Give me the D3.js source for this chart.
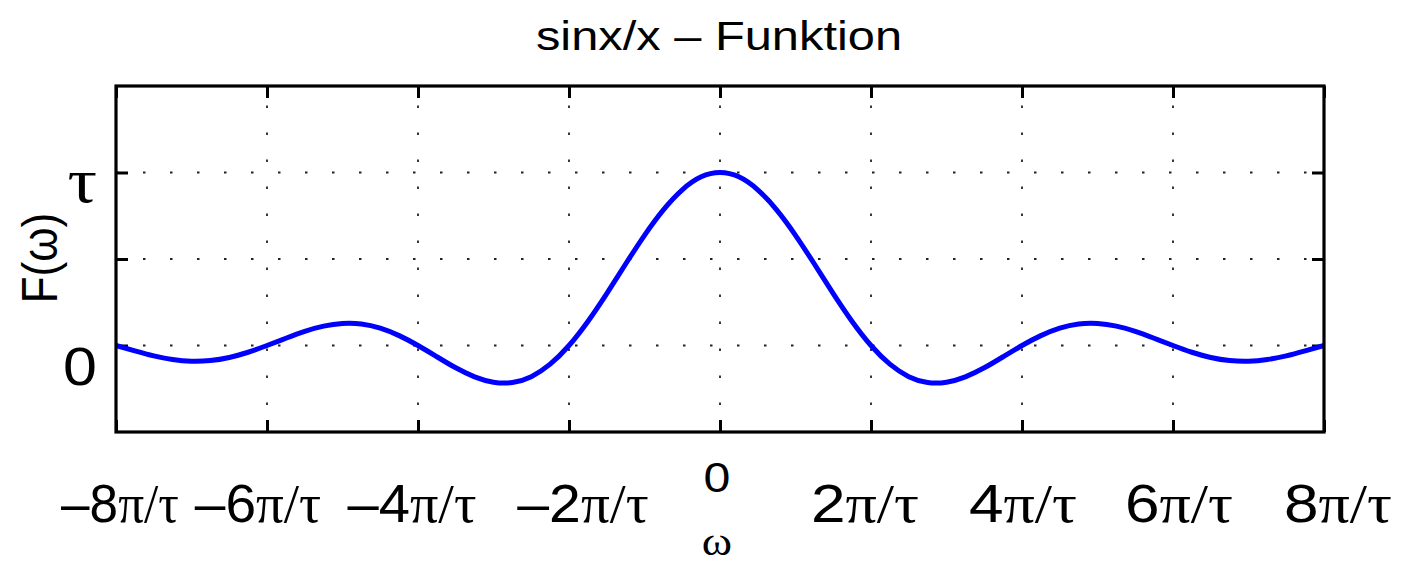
<!DOCTYPE html>
<html>
<head>
<meta charset="utf-8">
<script src="https://cdn.jsdelivr.net/npm/d3@7/dist/d3.min.js"></script>
<style>
  html, body { margin: 0; padding: 0; background: #fff; }
  svg { display: block; }
</style>
</head>
<body>
<svg id="chart" width="1406" height="562"></svg>
<script>
// Frequency axis in units of pi/tau
const omega = [
  -8, -7.75, -7.5, -7.25, -7, -6.75, -6.5, -6.25,
  -6, -5.75, -5.5, -5.25, -5, -4.75, -4.5, -4.25,
  -4, -3.75, -3.5, -3.25, -3, -2.75, -2.5, -2.25,
  -2, -1.75, -1.5, -1.25, -1, -0.75, -0.5, -0.25,
  0, 0.25, 0.5, 0.75, 1, 1.25, 1.5, 1.75,
  2, 2.25, 2.5, 2.75, 3, 3.25, 3.5, 3.75,
  4, 4.25, 4.5, 4.75, 5, 5.25, 5.5, 5.75,
  6, 6.25, 6.5, 6.75, 7, 7.25, 7.5, 7.75, 8
];
// F(omega) in units of tau
const spectrum = [
  0.000, -0.031, -0.060, -0.081, -0.091, -0.087, -0.069, -0.039,
  0.000, 0.042, 0.082, 0.112, 0.127, 0.124, 0.100, 0.057,
  0.000, -0.065, -0.129, -0.181, -0.212, -0.214, -0.180, -0.108,
  0.000, 0.139, 0.300, 0.471, 0.637, 0.784, 0.900, 0.975,
  1.000, 0.975, 0.900, 0.784, 0.637, 0.471, 0.300, 0.139,
  0.000, -0.108, -0.180, -0.214, -0.212, -0.181, -0.129, -0.065,
  0.000, 0.057, 0.100, 0.124, 0.127, 0.112, 0.082, 0.042,
  0.000, -0.039, -0.069, -0.087, -0.091, -0.081, -0.060, -0.031, 0.000
];
const xTicks = [-8, -6, -4, -2, 0, 2, 4, 6, 8];
const xTickLabels = ["\u20138\u03c0/\u03c4", "\u20136\u03c0/\u03c4", "\u20134\u03c0/\u03c4", "\u20132\u03c0/\u03c4", "0",
                     "2\u03c0/\u03c4", "4\u03c0/\u03c4", "6\u03c0/\u03c4", "8\u03c0/\u03c4"];
const yTicks = [0, 0.5, 1];
const yTickLabels = ["0", "", "\u03c4"];
const titleText = "sinx/x \u2013 Funktion";
const xLabelText = "\u03c9";
const yLabelText = "F(\u03c9)";

const svg = d3.select("#chart");
const plotL = 116, plotR = 1324, plotT = 86, plotB = 432;
const sans = "'Liberation Sans', Arial, Helvetica, sans-serif";
const serif = "'Liberation Serif', 'Times New Roman', serif";

const x = d3.scaleLinear().domain([-8, 8]).range([plotL, plotR]);
const y = d3.scaleLinear().domain([-0.5, 1.5]).range([plotB, plotT]);

// dotted grid
const grid = svg.append("g")
  .attr("stroke", "#222").attr("stroke-width", 1.8)
  .attr("stroke-dasharray", "2.5,24.5");
grid.selectAll("line.v").data(xTicks.slice(1, -1)).join("line")
  .attr("class", "v")
  .attr("x1", d => x(d)).attr("x2", d => x(d))
  .attr("y1", plotB).attr("y2", plotT);
grid.selectAll("line.h").data(yTicks).join("line")
  .attr("class", "h")
  .attr("x1", plotL).attr("x2", plotR)
  .attr("y1", d => y(d)).attr("y2", d => y(d));

// inward ticks on all four sides
const tickLen = 12;
function styleAxis(g) {
  g.select(".domain").remove();
  g.selectAll("text").remove();
  g.selectAll("line").attr("stroke", "#000").attr("stroke-width", 3);
}
svg.append("g").attr("transform", `translate(0,${plotB})`)
  .call(d3.axisBottom(x).tickValues(xTicks).tickSize(-tickLen)).call(styleAxis);
svg.append("g").attr("transform", `translate(0,${plotT})`)
  .call(d3.axisTop(x).tickValues(xTicks).tickSize(-tickLen)).call(styleAxis);
svg.append("g").attr("transform", `translate(${plotL},0)`)
  .call(d3.axisLeft(y).tickValues(yTicks).tickSize(-tickLen)).call(styleAxis);
svg.append("g").attr("transform", `translate(${plotR},0)`)
  .call(d3.axisRight(y).tickValues(yTicks).tickSize(-tickLen)).call(styleAxis);

// curve
const line = d3.line()
  .x((d, i) => x(omega[i]))
  .y(d => y(d))
  .curve(d3.curveNatural);
svg.append("path")
  .datum(spectrum)
  .attr("d", line)
  .attr("fill", "none")
  .attr("stroke", "#0000ff")
  .attr("stroke-width", 5)
  .attr("stroke-linejoin", "round");

// frame
svg.append("rect")
  .attr("x", plotL).attr("y", plotT)
  .attr("width", plotR - plotL).attr("height", plotB - plotT)
  .attr("fill", "none").attr("stroke", "#000").attr("stroke-width", 3.2);

// lettering helper: horizontally stretched text anchored at (px, py)
function label(px, py, opts) {
  const sx = opts.sx || 1.15;
  const g = svg.append("g")
    .attr("transform", `translate(${px},${py}) scale(${sx},1)` + (opts.rotate ? ` rotate(${opts.rotate})` : ""));
  return g.append("text")
    .attr("text-anchor", opts.anchor || "middle")
    .attr("font-size", opts.size)
    .attr("font-family", opts.family || sans)
    .attr("fill", "#000");
}

// title
label(719, 50, { size: 40, sx: 1.22 }).text(titleText);

// x tick labels (sans digits, serif pi/tau)
const labelShift = [4, -9, -6, 14, -3, -6, 1, 6, 14];
const labelStretch = [0.95, 1.02, 1.04, 1.06, 1.15, 1.15, 1.15, 1.15, 1.15];
xTicks.forEach((v, i) => {
  const s = xTickLabels[i];
  if (s === "0") {
    label(x(v) + labelShift[i], 492, { size: 42 }).text(s);
    return;
  }
  const k = s.indexOf("\u03c0");
  const t = label(x(v) + labelShift[i], 522, { size: 54, sx: labelStretch[i] });
  t.append("tspan").text(s.slice(0, k));
  t.append("tspan").attr("font-family", serif).text(s.slice(k));
});

// x axis label
label(717, 555, { size: 40, family: serif }).text(xLabelText);

// y tick labels
yTicks.forEach((v, i) => {
  const s = yTickLabels[i];
  if (!s) return;
  const isTau = s === "\u03c4";
  label(97, isTau ? 202 : 385, { size: isTau ? 64 : 53, anchor: "end", family: isTau ? serif : sans }).text(s);
});

// y axis label
label(57, 258, { size: 44, rotate: -90 }).text(yLabelText);
</script>
</body>
</html>
